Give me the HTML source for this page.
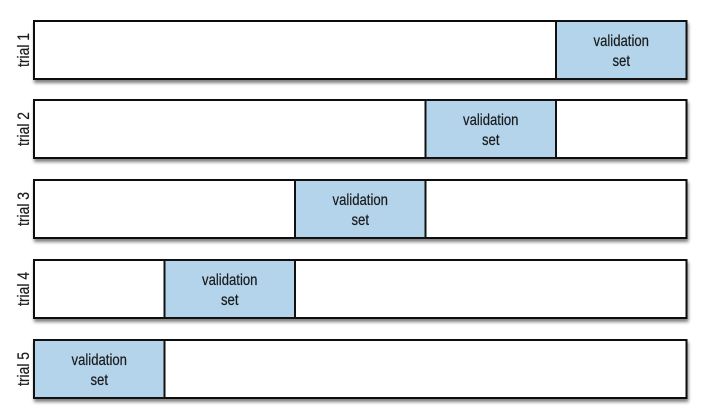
<!DOCTYPE html>
<html><head><meta charset="utf-8"><style>
html,body{margin:0;padding:0;background:#fff;width:713px;height:418px;overflow:hidden}
svg text{font-family:"Liberation Sans Narrow","Liberation Sans",sans-serif;fill:#1a1a1a}
</style></head><body>
<svg width="713" height="418" viewBox="0 0 713 418" xmlns="http://www.w3.org/2000/svg">
<defs>
<filter id="sh" x="-5%" y="-20%" width="110%" height="150%">
<feGaussianBlur in="SourceAlpha" stdDeviation="1.6"/>
<feOffset dx="1" dy="3" result="o"/>
<feComponentTransfer><feFuncA type="linear" slope="0.5"/></feComponentTransfer>
<feMerge><feMergeNode/><feMergeNode in="SourceGraphic"/></feMerge>
</filter>
</defs>
<g id="rows"></g>
</svg>
<script>
var ys=[21,100,180,260,340],xs=[34,164.5,295,425.5,556,686.5],h=58;
var g=document.getElementById('rows'),s='';
for(var i=0;i<5;i++){
 var y=ys[i],k=4-i;
 s+='<rect x="34" y="'+y+'" width="652.5" height="'+h+'" fill="#fff" stroke="#111" stroke-width="2" filter="url(#sh)"/>';
 s+='<rect x="'+xs[k]+'" y="'+y+'" width="'+(xs[k+1]-xs[k])+'" height="'+h+'" fill="#b3d4ea" stroke="#111" stroke-width="2"/>';
 var cx=(xs[k]+xs[k+1])/2;
 s+='<text x="'+cx+'" y="'+(y+25)+'" font-size="16" text-anchor="middle" stroke="#1a1a1a" stroke-width="0.2" transform="translate('+cx+' 0) scale(0.82 1) translate('+(-cx)+' 0)">validation</text>';
 s+='<text x="'+cx+'" y="'+(y+45)+'" font-size="16" text-anchor="middle" stroke="#1a1a1a" stroke-width="0.2" transform="translate('+cx+' 0) scale(0.82 1) translate('+(-cx)+' 0)">set</text>';
 var ly=y+29;
 s+='<text x="0" y="0" font-size="17" text-anchor="middle" stroke="#1a1a1a" stroke-width="0.2" transform="translate(29 '+ly+') rotate(-90) scale(0.82 1)">trial '+(i+1)+'</text>';
}
g.innerHTML=s;
</script>
</body></html>
